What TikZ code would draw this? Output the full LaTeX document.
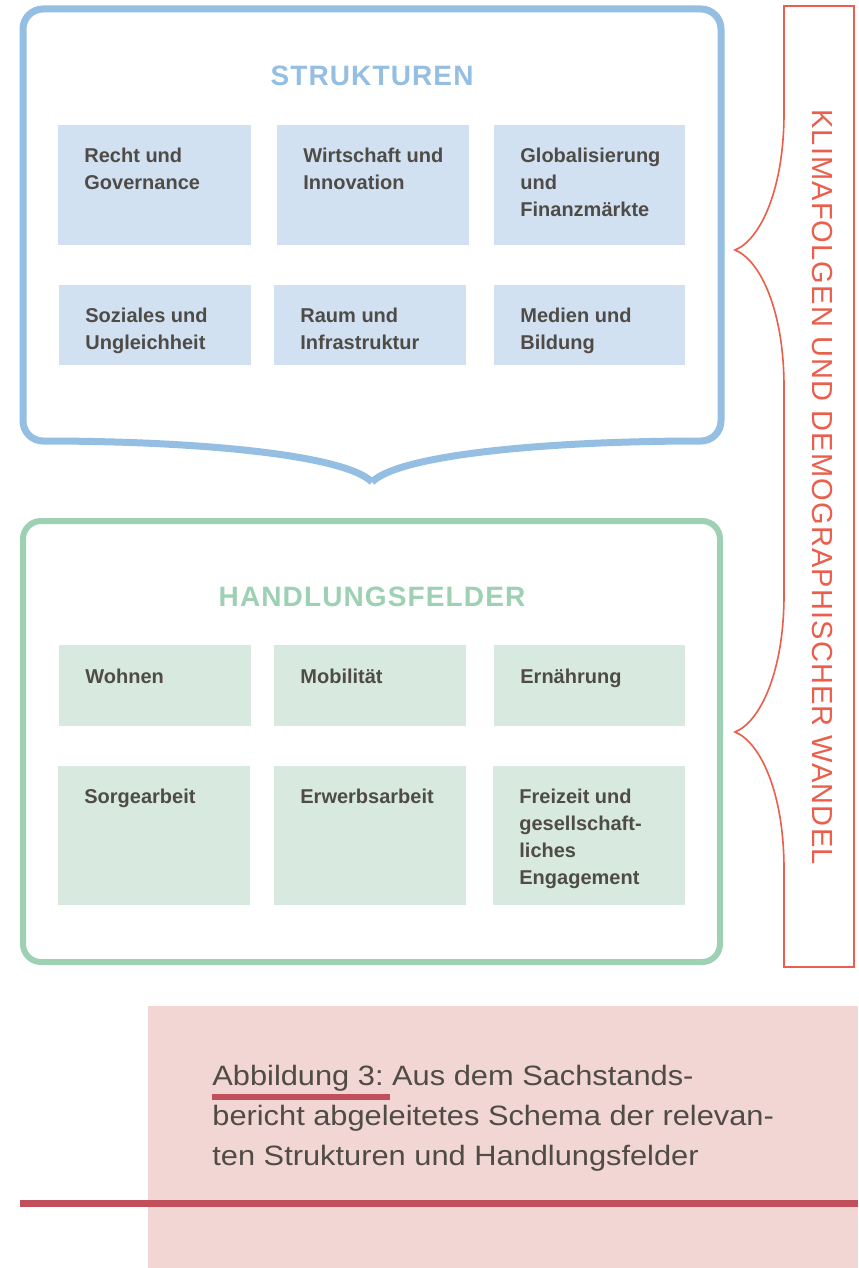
\documentclass[tikz,border=0pt]{standalone}
\usepackage{fontspec}
\setmainfont{Liberation Sans}
\newfontfamily\headfont[LetterSpace=4]{Liberation Sans}
\newfontfamily\sidefont[LetterSpace=4]{Liberation Sans}
\newfontfamily\capfont[FakeStretch=1.1]{Liberation Sans}
\usepackage{tikz}
\usetikzlibrary{calc}
\definecolor{strline}{HTML}{94BFE3}
\definecolor{strfill}{HTML}{D2E1F2}
\definecolor{hdlline}{HTML}{9ED0B3}
\definecolor{hdlfill}{HTML}{D8EADF}
\definecolor{klima}{HTML}{EA5E4B}
\definecolor{rosa}{HTML}{F2D6D3}
\definecolor{weinrot}{HTML}{C2505C}
\definecolor{ink}{HTML}{4F4B46}
\frenchspacing

\begin{document}
\begin{tikzpicture}[x=.5pt,y=-.5pt,
    lbl/.style={anchor=north west,align=left,inner sep=0pt,text=ink,
      font=\bfseries\fontsize{10pt}{13.5pt}\selectfont},
    head/.style={inner sep=0pt,font=\headfont\bfseries\fontsize{14pt}{16pt}\selectfont}]
    \useasboundingbox (0,0) rectangle (858,1268);
    \fill[white] (0,0) rectangle (858,1268);
    % Bildunterschrift
    \fill[rosa] (148,1006) rectangle (858,1268);
    \draw[weinrot,line width=3.5pt] (20,1203) -- (858,1203);
    \node[anchor=north west,align=left,inner sep=0pt,text=ink,
      font=\capfont\fontsize{14pt}{20pt}\selectfont] (caption) at (212,1065)
      {Abbildung 3: Aus dem Sachstands-\\bericht abgeleitetes Schema der relevan-\\ten Strukturen und Handlungsfelder};
    \draw[weinrot,line width=3pt] (212,1097) -- (390,1097);
    % Strukturen
    \draw[strline,line width=3.5pt]
      (372,482) .. controls (345,455) and (200,441) .. (43,441)
      .. controls (32,441) and (23,432) .. (23,421) -- (23,29)
      .. controls (23,18) and (32,9) .. (43,9) -- (701,9)
      .. controls (712,9) and (721,18) .. (721,29) -- (721,421)
      .. controls (721,432) and (712,441) .. (701,441)
      .. controls (544,441) and (399,455) .. (372,482);
    \node[head,text=strline] (strukturen) at (372,76) {STRUKTUREN};
    \fill[strfill] (58,125) rectangle (251,245);
    \fill[strfill] (277,125) rectangle (469,245);
    \fill[strfill] (494,125) rectangle (685,245);
    \fill[strfill] (59,285) rectangle (251,365);
    \fill[strfill] (274,285) rectangle (466,365);
    \fill[strfill] (494,285) rectangle (685,365);
    \node[lbl] (recht) at (84,148) {Recht und\\Governance};
    \node[lbl] (wirtschaft) at (303,148) {Wirtschaft und\\Innovation};
    \node[lbl] (global) at (520,148) {Globalisierung\\und\\Finanzmärkte};
    \node[lbl] (soziales) at (85,308) {Soziales und\\Ungleichheit};
    \node[lbl] (raum) at (300,308) {Raum und\\Infrastruktur};
    \node[lbl] (medien) at (520,308) {Medien und\\Bildung};
    % Handlungsfelder
    \draw[hdlline,line width=3pt,rounded corners=9pt] (23,521) rectangle (720,962);
    \node[head,text=hdlline] (handlung) at (372,597) {HANDLUNGSFELDER};
    \fill[hdlfill] (59,645) rectangle (251,726);
    \fill[hdlfill] (274,645) rectangle (466,726);
    \fill[hdlfill] (494,645) rectangle (685,726);
    \fill[hdlfill] (58,766) rectangle (250,905);
    \fill[hdlfill] (274,766) rectangle (466,905);
    \fill[hdlfill] (493,766) rectangle (685,905);
    \node[lbl] (wohnen) at (85,669) {Wohnen};
    \node[lbl] (mobil) at (300,669) {Mobilität};
    \node[lbl] (ernaehrung) at (520,669) {Ernährung};
    \node[lbl] (sorge) at (84,789) {Sorgearbeit};
    \node[lbl] (erwerb) at (300,789) {Erwerbsarbeit};
    \node[lbl] (freizeit) at (519,789) {Freizeit und\\gesellschaft-\\liches\\Engagement};
    % Klammer rechts
    \draw[klima,line width=.8pt]
      (784,6) -- (854,6) -- (854,967) -- (784,967) -- (784,869)
      .. controls (784,792) and (760,742) .. (735,732)
      .. controls (760,722) and (784,672) .. (784,595) -- (784,387)
      .. controls (784,310) and (760,260) .. (735,250)
      .. controls (760,240) and (784,190) .. (784,113) -- cycle;
    \node[rotate=-90,inner sep=0pt,text=klima,
      font=\sidefont\fontsize{14.5pt}{16pt}\selectfont] (wandel) at (822,487)
      {KLIMAFOLGEN UND DEMOGRAPHISCHER WANDEL};
  \end{tikzpicture}
\end{document}
